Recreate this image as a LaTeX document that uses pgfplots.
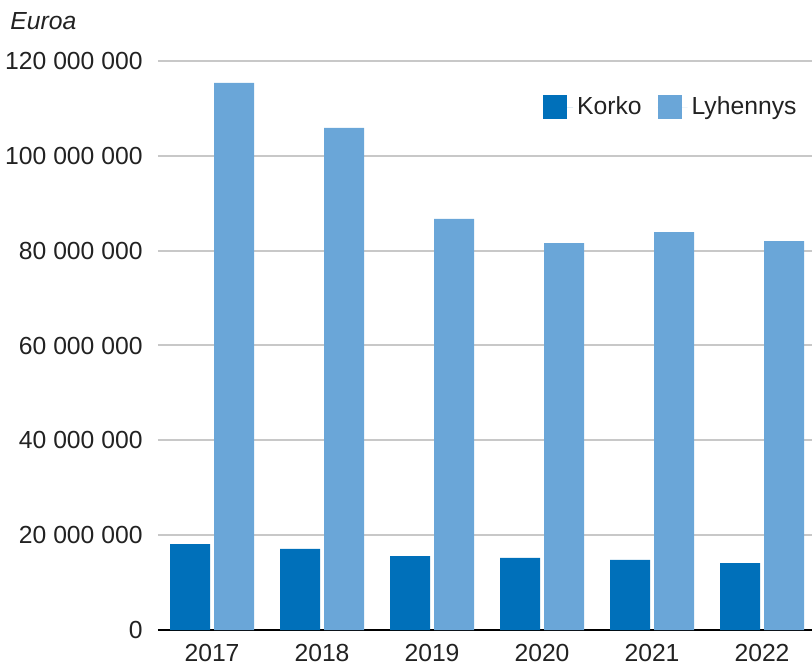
\documentclass[border=0pt]{standalone}
\usepackage{pgfplots}
\pgfplotsset{compat=1.18}
\usetikzlibrary{calc}
\usepackage{fontspec}
\setmainfont{Liberation Sans}
\definecolor{korko}{HTML}{0070BA}
\definecolor{lyh}{HTML}{6AA6D8}
\definecolor{txt}{HTML}{222222}
\definecolor{gridc}{HTML}{C8C8C8}

\begin{document}
\begin{tikzpicture}
\begin{axis}[
    name=ax,
    scale only axis,
    width=327bp, height=284.5bp,
    xmin=2016.509, xmax=2022.4545,
    ymin=0, ymax=120000000,
    ybar, bar width=20bp,
    xtick={2017,2018,2019,2020,2021,2022},
    xticklabels={2017,2018,2019,2020,2021,2022},
    ytick={0,20000000,40000000,60000000,80000000,100000000,120000000},
    yticklabels={0,20 000 000,40 000 000,60 000 000,80 000 000,100 000 000,120 000 000},
    scaled y ticks=false,
    axis x line*=bottom, axis y line*=left,
    x axis line style={draw=black, line width=1bp, -},
    y axis line style={draw=none},
    tick style={draw=none},
    ymajorgrids, grid style={gridc, line width=1bp},
    ticklabel style={font=\fontsize{12.4}{14}\selectfont, text=txt},
    xticklabel style={anchor=north, inner sep=0pt, yshift=-2.5bp},
    yticklabel style={anchor=east, inner sep=0pt, xshift=-7.5bp},
    legend columns=2,
    legend style={draw=none, fill=none, at={(0.983,0.919)}, anchor=east,
        inner sep=0pt, font=\fontsize{12.4}{14}\selectfont, text=txt,
        /tikz/every even column/.append style={column sep=6bp}},
    legend image code/.code={\fill[#1] (0bp,-6bp) rectangle (12bp,6bp);
        \path (0bp,0bp) -- (15bp,0bp);},
    clip=false,
]
\addplot[fill=korko, draw=none, bar shift=-11bp] coordinates {
    (2017,18100000) (2018,17100000) (2019,15600000)
    (2020,15200000) (2021,14800000) (2022,14100000)
};
\addlegendentry{Korko}
\addplot[fill=lyh, draw=none, bar shift=11bp] coordinates {
    (2017,115400000) (2018,105900000) (2019,86700000)
    (2020,81600000) (2021,83900000) (2022,82000000)
};
\addlegendentry{Lyhennys}
\end{axis}
\node[anchor=base west, font=\fontsize{12.4}{14}\selectfont\itshape, text=txt, inner sep=0pt]
    at ($(ax.north west)+(-74bp,15.5bp)$) {Euroa};
\pgfresetboundingbox
\path ($(ax.south west)+(-79bp,-17bp)$) rectangle ($(ax.north east)+(0bp,30.5bp)$);
\end{tikzpicture}
\end{document}
